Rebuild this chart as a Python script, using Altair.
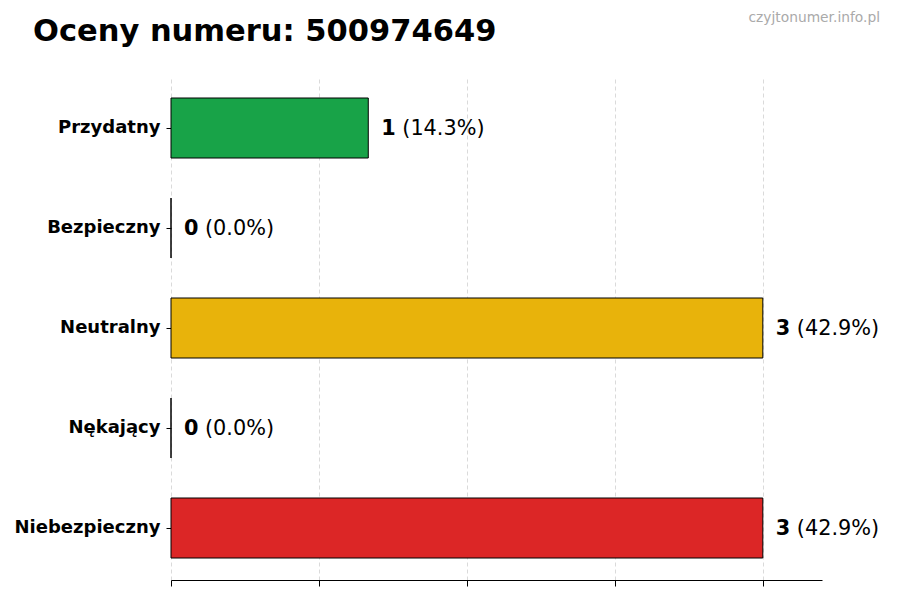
import altair as alt
import pandas as pd

categories = ["Przydatny", "Bezpieczny", "Neutralny", "Nękający", "Niebezpieczny"]
counts = [1, 0, 3, 0, 3]
colors = ["#18a348", "#2563eb", "#e8b30b", "#f97316", "#dc2626"]
x_ticks = [0, 0.75, 1.5, 2.25, 3.0]
title_text = "Oceny numeru: 500974649"
watermark_text = "czyjtonumer.info.pl"

total = sum(counts)
df = pd.DataFrame({
    "cat": categories,
    "count": counts,
    "color": colors,
    "num": [str(c) for c in counts],
    "pct": [f"({c / total * 100:.1f}%)" for c in counts],
})

FONT = "DejaVu Sans"

x_enc = alt.X("count:Q",
              scale=alt.Scale(domain=[0, 3.3], nice=False, zero=True),
              axis=alt.Axis(values=x_ticks, labels=False, title=None,
                            grid=True, gridColor="#d0d0d0", gridDash=[4, 3],
                            gridWidth=0.8, domainColor="black", domainWidth=1,
                            tickColor="black", tickSize=6, tickWidth=1))
y_enc = alt.Y("cat:N", sort=categories,
              scale=alt.Scale(paddingInner=0.4, paddingOuter=0.22),
              axis=alt.Axis(title=None, domain=False, grid=False,
                            tickColor="black", tickSize=5, tickWidth=1,
                            labelFont=FONT, labelFontWeight="bold",
                            labelFontSize=18, labelColor="black",
                            labelPadding=6))

bars = alt.Chart(df).mark_bar(stroke="black", strokeWidth=1).encode(
    x=x_enc, y=y_enc,
    color=alt.Color("color:N", scale=None, legend=None),
)

num_text = alt.Chart(df).mark_text(
    align="left", baseline="middle", dx=13, dy=1, font=FONT, fontWeight="bold",
    fontSize=20.8, color="black"
).encode(x="count:Q", y=alt.Y("cat:N", sort=categories), text="num:N")

pct_text = alt.Chart(df).mark_text(
    align="left", baseline="middle", dx=34, dy=1, font=FONT,
    fontSize=20.8, color="black"
).encode(x="count:Q", y=alt.Y("cat:N", sort=categories), text="pct:N")

title = alt.Chart(pd.DataFrame({"t": [title_text]})).mark_text(
    align="left", baseline="alphabetic", font=FONT, fontWeight="bold",
    fontSize=30.5, color="black"
).encode(x=alt.value(-138), y=alt.value(-35), text="t:N")

wm = alt.Chart(pd.DataFrame({"t": [watermark_text]})).mark_text(
    align="right", baseline="alphabetic", font=FONT,
    fontSize=13.8, color="#aaaaaa"
).encode(x=alt.value(709), y=alt.value(-54), text="t:N")

chart = alt.layer(bars, num_text, pct_text, title, wm).properties(
    width=651, height=504,
    autosize=alt.AutoSizeParams(type="none"),
    padding={"left": 163, "top": 68, "right": 70, "bottom": 12},
).configure_view(stroke=None)

chart.save("out.html", embed_options={"renderer": "svg", "actions": False})
